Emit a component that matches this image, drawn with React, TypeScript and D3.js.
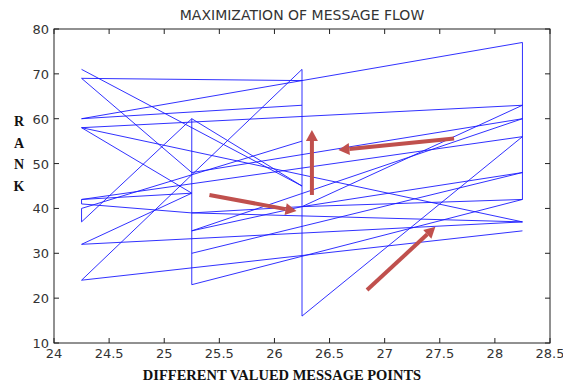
import React from 'react';
import * as d3 from 'd3';

// x positions of the message points and the rank ticks
const xTicks = [24, 24.5, 25, 25.5, 26, 26.5, 27, 27.5, 28, 28.5];
const yTicks = [10, 20, 30, 40, 50, 60, 70, 80];

// message flow segments (x value, rank)
const verticals: [number, number][][] = [
  [[25.25, 60], [25.25, 23]],
  [[26.25, 71], [26.25, 16]],
  [[28.25, 77], [28.25, 42]],
  [[24.25, 42], [24.25, 41]],
  [[24.25, 40], [24.25, 37]],
];

const fromLeft: [number, number][][] = [
  [[24.25, 69], [26.25, 68.5]],
  [[24.25, 71], [26.25, 45]],
  [[24.25, 69], [25.25, 48]],
  [[24.25, 24], [26.25, 71]],
  [[24.25, 60], [28.25, 77]],
  [[24.25, 60], [26.25, 63]],
  [[24.25, 58], [28.25, 63]],
  [[24.25, 58], [25.25, 43.4]],
  [[24.25, 58], [28.25, 37]],
  [[24.25, 37], [25.25, 60]],
  [[24.25, 42], [25.25, 43.4]],
  [[24.25, 41], [25.25, 39]],
  [[24.25, 42], [28.25, 56]],
  [[24.25, 40], [26.25, 55]],
  [[24.25, 32], [28.25, 37]],
  [[24.25, 32], [25.25, 43.4]],
  [[24.25, 24], [28.25, 35]],
];

const fromMiddle: [number, number][][] = [
  [[25.25, 60], [26.25, 45]],
  [[25.25, 48], [28.25, 60]],
  [[25.25, 39], [26.25, 40.4]],
  [[25.25, 35], [26.25, 40.4]],
  [[25.25, 30], [28.25, 48]],
  [[25.25, 23], [28.25, 42]],
  [[25.25, 35], [28.25, 60]],
  [[25.25, 39], [28.25, 37]],
  [[26.25, 40.4], [28.25, 63]],
  [[26.25, 40.4], [28.25, 42]],
  [[26.25, 40.4], [28.25, 48]],
  [[26.25, 16], [28.25, 56]],
];

// red annotation arrows: [tail, head]
const arrows: [number, number][][] = [
  [[25.41, 43.0], [26.2, 39.4]],
  [[26.34, 43.0], [26.34, 57.5]],
  [[27.63, 55.6], [26.58, 53.0]],
  [[26.84, 21.8], [27.46, 35.9]],
];

const W = 563;
const H = 382;
const left = 54, right = 550, top = 29, bottom = 343;

export default function App() {
  const x = d3.scaleLinear().domain([24, 28.5]).range([left, right]);
  const y = d3.scaleLinear().domain([10, 80]).range([bottom, top]);
  const line = d3.line<[number, number]>().x(d => x(d[0])).y(d => y(d[1]));

  const segments = [...verticals, ...fromLeft, ...fromMiddle];

  const arrowShape = (a: [number, number][]) => {
    const x0 = x(a[0][0]), y0 = y(a[0][1]);
    const x1 = x(a[1][0]), y1 = y(a[1][1]);
    const ang = Math.atan2(y1 - y0, x1 - x0);
    const len = 11, half = 6;
    const bx = x1 - len * Math.cos(ang), by = y1 - len * Math.sin(ang);
    const px = -Math.sin(ang) * half, py = Math.cos(ang) * half;
    return {
      shaft: `M${x0},${y0}L${bx},${by}`,
      head: `M${x1},${y1}L${bx + px},${by + py}L${bx - px},${by - py}Z`,
    };
  };

  return (
    <svg width={W} height={H} style={{ position: 'absolute', left: 0, top: 0, background: '#fff' }}>
      <text x={302} y={20} textAnchor="middle" fontFamily="DejaVu Sans" fontSize={14} fill="#333">
        MAXIMIZATION OF MESSAGE FLOW
      </text>

      <g fill="none" stroke="#1a1aff" strokeWidth={0.9}>
        {segments.map((s, i) => (
          <path key={i} d={line(s) || ''} />
        ))}
      </g>

      <rect x={left} y={top} width={right - left} height={bottom - top} fill="none" stroke="#222" strokeWidth={1} />

      <g stroke="#222" strokeWidth={1}>
        {xTicks.map(t => (
          <g key={t}>
            <line x1={x(t)} x2={x(t)} y1={bottom} y2={bottom - 5} />
            <line x1={x(t)} x2={x(t)} y1={top} y2={top + 5} />
          </g>
        ))}
        {yTicks.map(t => (
          <g key={t}>
            <line x1={left} x2={left + 5} y1={y(t)} y2={y(t)} />
            <line x1={right} x2={right - 5} y1={y(t)} y2={y(t)} />
          </g>
        ))}
      </g>

      <g fontFamily="DejaVu Sans" fontSize={13} fill="#333">
        {xTicks.map(t => (
          <text key={t} x={x(t)} y={bottom + 15} textAnchor="middle">{t}</text>
        ))}
        {yTicks.map(t => (
          <text key={t} x={left - 5} y={y(t) + 5} textAnchor="end">{t}</text>
        ))}
      </g>

      <g>
        {arrows.map((a, i) => {
          const s = arrowShape(a);
          return (
            <g key={i}>
              <path d={s.shaft} stroke="#c0504d" strokeWidth={4} fill="none" />
              <path d={s.head} fill="#c0504d" />
            </g>
          );
        })}
      </g>

      <g fontFamily="Liberation Serif, Times New Roman" fontWeight="bold" fontSize={14} fill="#111" textAnchor="middle">
        {['R', 'A', 'N', 'K'].map((c, i) => (
          <text key={c} x={19} y={126 + i * 21.5}>{c}</text>
        ))}
        <text x={282} y={380} fontSize={14.5}>DIFFERENT VALUED MESSAGE POINTS</text>
      </g>
    </svg>
  );
}
